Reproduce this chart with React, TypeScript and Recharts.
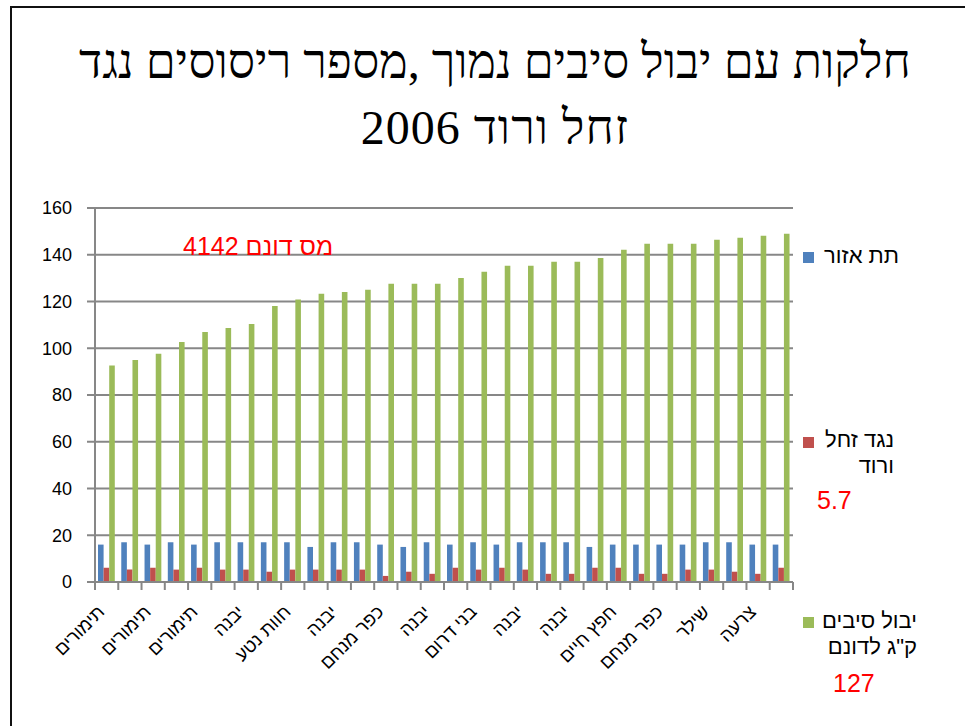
import React from 'react';
import { BarChart, Bar, XAxis, YAxis, CartesianGrid } from 'recharts';

const categoryLabels = [
  'תימורים', '', 'תימורים', '', 'תימורים', '', 'יבנה', '', 'חוות נטע', '',
  'יבנה', '', 'כפר מנחם', '', 'יבנה', '', 'בני דרום', '', 'יבנה', '',
  'יבנה', '', 'חפץ חיים', '', 'כפר מנחם', '', 'שילר', '', 'צרעה', '',
];

const subAreaValues = [
  16, 17, 16, 17, 16, 17, 17, 17, 17, 15, 17, 17, 16, 15, 17,
  16, 17, 16, 17, 17, 17, 15, 16, 16, 16, 16, 17, 17, 16, 16,
];

const sprayValues = [
  6.1, 5.3, 6.1, 5.3, 6.1, 5.3, 5.3, 4.4, 5.3, 5.3, 5.3, 5.3, 2.6, 4.4, 3.5,
  6.1, 5.3, 6.1, 5.3, 3.5, 3.5, 6.1, 6.1, 3.5, 3.5, 5.3, 5.3, 4.4, 3.5, 6.1,
];

const yieldValues = [
  92.6, 95, 97.6, 102.7, 107, 108.7, 110.4, 118.1, 120.9, 123.3, 124.1, 125, 127.6, 127.6, 127.6,
  130.1, 132.7, 135.3, 135.3, 137, 137, 138.6, 142.1, 144.7, 144.7, 144.7, 146.4, 147.3, 148.1, 149,
];

const yTicks = [0, 20, 40, 60, 80, 100, 120, 140, 160];

const seriesNames = ['תת אזור', 'נגד זחל ורוד', 'יבול סיבים ק"ג לדונם'];
const colors = ['#4F81BD', '#C0504D', '#9BBB59'];

const data = categoryLabels.map((label, i) => ({
  name: label,
  idx: i,
  sub: subAreaValues[i],
  spray: sprayValues[i],
  yld: yieldValues[i],
}));

const W = 965;
const H = 726;
const MARGIN = { top: 208, right: 172, left: 0, bottom: 0 };
const Y_W = 95;
const X_H = 144;
const PLOT_W = W - MARGIN.right - Y_W;
const GRID = '#878787';
const SANS = '"Liberation Sans", Arial, "DejaVu Sans", sans-serif';
const SERIF = '"Liberation Serif", "Times New Roman", serif';

const XTick = (props: any) => {
  const { x, y, payload, index } = props;
  const bw = PLOT_W / categoryLabels.length;
  const i = payload && typeof payload.index === 'number' ? payload.index : index;
  const label = categoryLabels[i];
  const lx = x - bw / 2;
  return (
    <g>
      <line x1={lx} y1={y} x2={lx} y2={y + 8} stroke={GRID} strokeWidth={2} />
      {i === categoryLabels.length - 1 && (
        <line x1={x + bw / 2} y1={y} x2={x + bw / 2} y2={y + 8} stroke={GRID} strokeWidth={2} />
      )}
      {label ? (
        <text
          transform={`translate(${x - 1},${y + 31}) rotate(-45)`}
          textAnchor="end"
          fontSize={18.5}
          fontFamily={SANS}
          fill="#000"
        >
          {label}
        </text>
      ) : null}
    </g>
  );
};

const legendText: React.CSSProperties = {
  position: 'absolute',
  fontFamily: SANS,
  fontSize: 22,
  lineHeight: '26px',
  direction: 'rtl',
  textAlign: 'right',
  color: '#000',
  whiteSpace: 'nowrap',
};

const sq = (c: string, top: number): React.CSSProperties => ({
  position: 'absolute',
  left: 803,
  top,
  width: 11,
  height: 11,
  background: c,
});

const titleStyle: React.CSSProperties = {
  position: 'absolute',
  left: 0,
  width: 990,
  textAlign: 'center',
  direction: 'rtl',
  fontFamily: SERIF,
  fontSize: 48,
  lineHeight: '48px',
  color: '#000',
  whiteSpace: 'nowrap',
};

export default function App() {
  return (
    <div style={{ position: 'absolute', left: 0, top: 0, width: W, height: H, background: '#fff', overflow: 'hidden' }}>
      <div style={{ position: 'absolute', left: 10, top: 6, width: 1000, height: 800, border: '2px solid #111' }} />
      <div style={{ position: 'absolute', left: 0, top: 0 }}>
        <BarChart width={W} height={H} data={data} margin={MARGIN} barGap={0} barSize={5.6}>
          <CartesianGrid vertical={false} stroke={GRID} strokeWidth={2} />
          <XAxis
            dataKey="idx"
            height={X_H}
            interval={0}
            tickLine={false}
            tickSize={0}
            tickMargin={0}
            axisLine={{ stroke: GRID, strokeWidth: 2 }}
            tick={<XTick />}
          />
          <YAxis
            width={Y_W}
            domain={[0, 160]}
            ticks={yTicks}
            interval={0}
            tickSize={8}
            tickMargin={15}
            axisLine={{ stroke: GRID, strokeWidth: 2 }}
            tickLine={{ stroke: GRID, strokeWidth: 2 }}
            tick={{ fontSize: 18, fontFamily: SANS, fill: '#000' }}
          />
          <Bar dataKey="sub" name={seriesNames[0]} fill={colors[0]} isAnimationActive={false} />
          <Bar dataKey="spray" name={seriesNames[1]} fill={colors[1]} isAnimationActive={false} />
          <Bar dataKey="yld" name={seriesNames[2]} fill={colors[2]} isAnimationActive={false} />
        </BarChart>
      </div>

      <div style={{ ...titleStyle, top: 38 }}>
        חלקות עם יבול סיבים נמוך ,מספר ריסוסים נגד
      </div>
      <div style={{ ...titleStyle, top: 104, letterSpacing: 1 }}>
        זחל ורוד 2006
      </div>

      <div style={{ position: 'absolute', left: 183, top: 231, fontFamily: SANS, fontSize: 25, lineHeight: '30px', color: '#FF0000', direction: 'rtl', whiteSpace: 'nowrap' }}>
        מס דונם 4142
      </div>

      <div style={sq(colors[0], 252)} />
      <div style={{ ...legendText, right: W - 899, top: 243 }}>{seriesNames[0]}</div>

      <div style={sq(colors[1], 437)} />
      <div style={{ ...legendText, right: W - 894, top: 427 }}>
        נגד זחל
        <br />
        ורוד
      </div>
      <div style={{ position: 'absolute', left: 817, top: 485, fontFamily: SANS, fontSize: 25, lineHeight: '30px', color: '#FF0000' }}>5.7</div>

      <div style={sq(colors[2], 617)} />
      <div style={{ ...legendText, right: W - 917, top: 608 }}>
        יבול סיבים
        <br />
        ק"ג לדונם
      </div>
      <div style={{ position: 'absolute', left: 833, top: 668, fontFamily: SANS, fontSize: 25, lineHeight: '30px', color: '#FF0000' }}>127</div>
    </div>
  );
}
